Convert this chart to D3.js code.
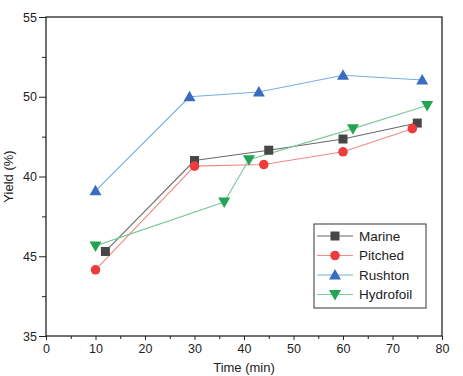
<!DOCTYPE html>
<html>
<head>
<meta charset="utf-8">
<script src="https://cdn.jsdelivr.net/npm/d3@7"></script>
<style>
  body { margin: 0; background: #fff; }
  svg { display: block; font-family: "Liberation Sans", Arial, sans-serif; }
</style>
</head>
<body>
<div id="plot"></div>
<script>
// Values (time in min, yield on the plotted scale).
var series_names = ["Marine", "Pitched", "Rushton", "Hydrofoil"];
var marine_time = [12, 30, 45, 60, 75];
var marine_yield = [40.3, 46.0, 46.65, 47.35, 48.35];
var pitched_time = [10, 30, 44, 60, 74];
var pitched_yield = [39.15, 45.65, 45.75, 46.55, 48.0];
var rushton_time = [10, 29, 43, 60, 76];
var rushton_yield = [44.1, 50.0, 50.3, 51.35, 51.05];
var hydrofoil_time = [10, 36, 41, 62, 77];
var hydrofoil_yield = [40.65, 43.4, 46.05, 48.0, 49.45];

// The y tick labels as printed in the original figure.
var y_tick_values = [35, 40, 45, 50, 55];
var y_tick_labels = ["35", "45", "40", "50", "55"];

var width = 463, height = 376;
var plot_left = 46, plot_right = 442, plot_top = 17, plot_bottom = 336;

var svg = d3.select("div#plot").append("svg")
    .attr("width", width)
    .attr("height", height)
    .attr("viewBox", "0 0 " + width + " " + height);

var x_scale = d3.scaleLinear().domain([0, 80]).range([plot_left, plot_right]);
var y_scale = d3.scaleLinear().domain([35, 55]).range([plot_bottom, plot_top]);

var styles = {
    Marine: { marker: "#474747", line: "#6a6a6a", shape: "square" },
    Pitched: { marker: "#ee3b3b", line: "#f08a84", shape: "circle" },
    Rushton: { marker: "#3a6dbf", line: "#74aee0", shape: "up" },
    Hydrofoil: { marker: "#23a454", line: "#7cc89a", shape: "down" }
};

var data = [
    { name: "Marine", t: marine_time, y: marine_yield },
    { name: "Pitched", t: pitched_time, y: pitched_yield },
    { name: "Rushton", t: rushton_time, y: rushton_yield },
    { name: "Hydrofoil", t: hydrofoil_time, y: hydrofoil_yield }
].map(function(s) {
    return {
        name: s.name,
        points: s.t.map(function(d, i) { return { t: d, y: s.y[i] }; })
    };
});

// Axes
var x_axis = d3.axisBottom(x_scale).tickValues(d3.range(0, 81, 10))
    .tickSize(4).tickPadding(4);
svg.append("g")
    .attr("transform", "translate(0," + plot_bottom + ")")
    .call(x_axis);

var y_axis = d3.axisLeft(y_scale).tickValues(y_tick_values)
    .tickFormat(function(d, i) { return y_tick_labels[i]; })
    .tickSize(7).tickPadding(2);
svg.append("g")
    .attr("transform", "translate(" + plot_left + ",0)")
    .call(y_axis);

// Minor ticks
svg.append("g")
    .attr("transform", "translate(0," + plot_bottom + ")")
    .call(d3.axisBottom(x_scale).tickValues(d3.range(5, 80, 10)).tickSize(3).tickFormat(""));
svg.append("g")
    .attr("transform", "translate(" + plot_left + ",0)")
    .call(d3.axisLeft(y_scale).tickValues(d3.range(37.5, 55, 5)).tickSize(4).tickFormat(""));

svg.selectAll(".domain").remove();
svg.selectAll(".tick line").attr("stroke", "#222").attr("stroke-width", 1);
svg.selectAll(".tick text").attr("font-size", 12.5).attr("fill", "#222")
    .attr("font-family", "Liberation Sans, Arial, sans-serif");

// Frame
svg.append("rect")
    .attr("x", plot_left).attr("y", plot_top)
    .attr("width", plot_right - plot_left).attr("height", plot_bottom - plot_top)
    .attr("fill", "none").attr("stroke", "#222").attr("stroke-width", 1.3);

// Axis titles
svg.append("text")
    .attr("x", (plot_left + plot_right) / 2).attr("y", 372)
    .attr("text-anchor", "middle").attr("font-size", 13).attr("fill", "#222")
    .text("Time (min)");
svg.append("text")
    .attr("transform", "translate(13," + ((plot_top + plot_bottom) / 2) + ") rotate(-90)")
    .attr("text-anchor", "middle").attr("font-size", 13).attr("fill", "#222")
    .text("Yield (%)");

function draw_marker(g, shape, color, x, y) {
    if (shape === "square") {
        g.append("rect").attr("x", x - 4.5).attr("y", y - 4.5)
            .attr("width", 9).attr("height", 9).attr("fill", color);
    } else if (shape === "circle") {
        g.append("circle").attr("cx", x).attr("cy", y).attr("r", 4.8).attr("fill", color);
    } else if (shape === "up") {
        g.append("path").attr("fill", color)
            .attr("d", "M" + x + "," + (y - 6) + "L" + (x + 6) + "," + (y + 4.5) + "L" + (x - 6) + "," + (y + 4.5) + "Z");
    } else {
        g.append("path").attr("fill", color)
            .attr("d", "M" + x + "," + (y + 6) + "L" + (x + 6) + "," + (y - 4.5) + "L" + (x - 6) + "," + (y - 4.5) + "Z");
    }
}

var line = d3.line()
    .x(function(d) { return x_scale(d.t); })
    .y(function(d) { return y_scale(d.y); });

var g_lines = svg.append("g").attr("id", "lines");
data.forEach(function(s) {
    g_lines.append("path")
        .attr("d", line(s.points))
        .attr("fill", "none")
        .attr("stroke", styles[s.name].line)
        .attr("stroke-width", 1.1);
});

var g_markers = svg.append("g").attr("id", "markers");
data.forEach(function(s) {
    s.points.forEach(function(p) {
        draw_marker(g_markers, styles[s.name].shape, styles[s.name].marker,
            x_scale(p.t), y_scale(p.y));
    });
});

// Legend
var lx = 314, ly = 224;
var legend = svg.append("g").attr("id", "legend");
legend.append("rect")
    .attr("x", lx).attr("y", ly).attr("width", 112).attr("height", 84)
    .attr("fill", "#fff").attr("stroke", "#333").attr("stroke-width", 1);
series_names.forEach(function(name, i) {
    var yy = ly + 12 + i * 19.5;
    legend.append("line")
        .attr("x1", lx + 3).attr("x2", lx + 39)
        .attr("y1", yy).attr("y2", yy)
        .attr("stroke", styles[name].line).attr("stroke-width", 1.1);
    draw_marker(legend, styles[name].shape, styles[name].marker, lx + 21, yy);
    legend.append("text")
        .attr("x", lx + 45).attr("y", yy + 4.5)
        .attr("font-size", 13.5).attr("fill", "#222")
        .text(name);
});
</script>
</body>
</html>
